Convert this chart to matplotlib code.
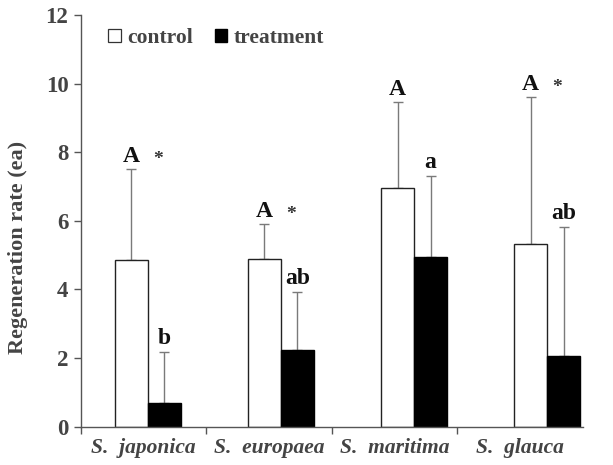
import matplotlib
matplotlib.use("Agg")
import matplotlib.pyplot as plt
from matplotlib.patches import Patch
import numpy as np

species = ["S.  japonica", "S.  europaea", "S.  maritima", "S.  glauca"]
control = [4.86, 4.90, 6.96, 5.33]
control_err = [2.64, 1.00, 2.49, 4.27]
treatment = [0.68, 2.24, 4.94, 2.07]
treatment_err = [1.49, 1.68, 2.38, 3.76]
control_marks = ["A *", "A *", "A", "A *"]
treatment_marks = ["b", "ab", "a", "ab"]
y_ticks = [0, 2, 4, 6, 8, 10, 12]

plt.rcParams["font.family"] = ["Liberation Serif", "DejaVu Serif"]
grey_txt = "#444444"

fig = plt.figure(figsize=(6.13, 4.65), dpi=100)
ax = fig.add_axes([0.132, 0.0824, 0.819, 0.8853])

n = len(species)
width = 0.263
centers = 0.534 + 1.06 * np.arange(n)
xc = centers - width / 2
xt = centers + width / 2

ax.bar(xc, control, width, color="white", edgecolor="#222222", linewidth=1.0, zorder=2)
ax.bar(xt, treatment, width, color="black", edgecolor="black", linewidth=1.0, zorder=2)
ax.errorbar(xc, control, yerr=[np.zeros(n), control_err], fmt="none",
            ecolor="#7a7a7a", elinewidth=1.0, capsize=3.5, capthick=1.0, zorder=1)
ax.errorbar(xt, treatment, yerr=[np.zeros(n), treatment_err], fmt="none",
            ecolor="#7a7a7a", elinewidth=1.0, capsize=3.5, capthick=1.0, zorder=1)

for i in range(n):
    top_c = control[i] + control_err[i]
    top_t = treatment[i] + treatment_err[i]
    parts = control_marks[i].split()
    ax.annotate(parts[0], (xc[i], top_c), xytext=(0, 2), textcoords="offset points",
                ha="center", va="bottom", fontsize=17, fontweight="bold", color="#111111")
    if len(parts) > 1:
        ax.annotate(parts[1], (xc[i], top_c), xytext=(19, 1), textcoords="offset points",
                    ha="center", va="bottom", fontsize=14, fontweight="bold", color="#333333")
    ax.annotate(treatment_marks[i], (xt[i], top_t), xytext=(0, 2), textcoords="offset points",
                ha="center", va="bottom", fontsize=17, fontweight="bold", color="#111111")

ax.set_xlim(0, 4)
ax.set_ylim(0, 12)
ax.set_yticks(y_ticks)
ax.set_yticklabels([str(v) for v in y_ticks], fontsize=16.5, fontweight="bold", color=grey_txt)
ax.set_xticks([0, 1, 2, 3])
ax.set_xticklabels([])
ax.set_xticks(np.arange(n) + 0.5, minor=True)
ax.set_xticklabels(species, minor=True, fontsize=15.5, fontweight="bold",
                   fontstyle="italic", color=grey_txt)
ax.tick_params(axis="x", which="minor", length=0, pad=8)
ax.tick_params(axis="x", which="major", length=5, width=1, color="#555555", direction="out")
ax.tick_params(axis="y", length=5, width=1, color="#555555", direction="out", pad=4)

for s in ["top", "right"]:
    ax.spines[s].set_visible(False)
for s in ["left", "bottom"]:
    ax.spines[s].set_color("#555555")
    ax.spines[s].set_linewidth(1.0)

ax.set_ylabel("Regeneration rate (ea)", fontsize=16, fontweight="bold", color=grey_txt)
ax.yaxis.set_label_coords(-0.106, 0.436)

handles = [Patch(facecolor="white", edgecolor="#333333", linewidth=0.9, label="control"),
           Patch(facecolor="black", edgecolor="black", label="treatment")]
leg = ax.legend(handles=handles, loc="upper left", bbox_to_anchor=(0.028, 1.0), ncol=2,
                frameon=False, handlelength=0.6, handleheight=0.6, handletextpad=0.3,
                columnspacing=1.0, borderaxespad=0.2,
                prop={"family": "Liberation Serif", "weight": "bold", "size": 15.5})
for t in leg.get_texts():
    t.set_color(grey_txt)

fig.savefig("out.png", dpi=100)
